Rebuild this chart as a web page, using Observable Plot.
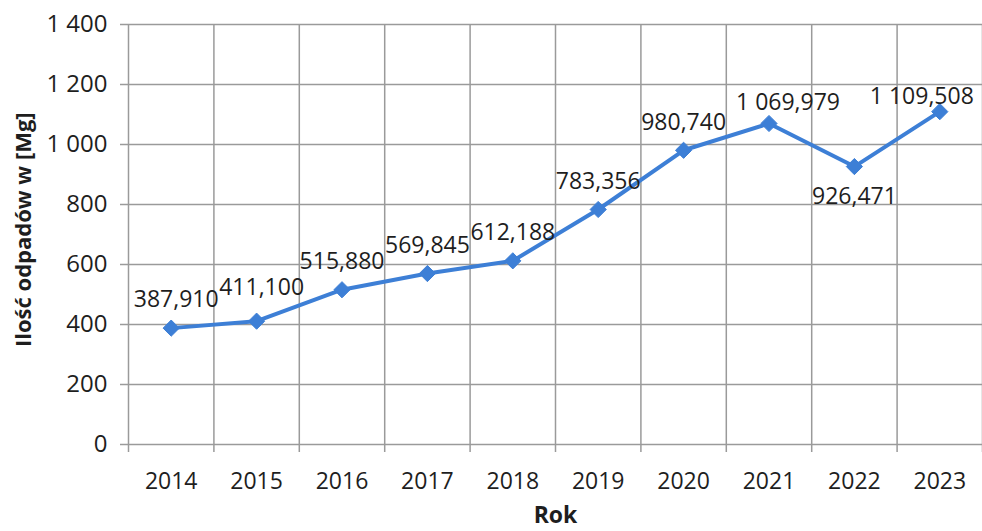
<!DOCTYPE html>
<html><head><meta charset="utf-8">
<script src="https://cdn.jsdelivr.net/npm/d3@7"></script>
<script src="https://cdn.jsdelivr.net/npm/@observablehq/plot@0.6"></script>
<style>
body{margin:0;background:#fff;}
#chart svg{font-family:"Open Sans",sans-serif;}
</style></head>
<body><div id="chart"></div>
<script>
const years = [2014,2015,2016,2017,2018,2019,2020,2021,2022,2023];
const values = [387.910,411.100,515.880,569.845,612.188,783.356,980.740,1069.979,926.471,1109.508];
const yTicks = [0,200,400,600,800,1000,1200,1400];
const xTitle = "Rok";
const yTitle = "Ilość odpadów w [Mg]";

const data = years.map((y,i)=>({year:y, value:values[i]}));
const pl = d3.formatLocale({decimal:",", thousands:"\u00a0", grouping:[3]});
const fmtVal = pl.format(",.3f");
const fmtTick = pl.format(",d");
const x0 = years[0]-0.5, x1 = years[years.length-1]+0.5;
const bounds = d3.range(x0, x1+0.5, 1);

const ink = "#1e1e1e";
const blue = "#3d7fd6";
const grid = "#9a9a9a";
const lbl = {x:"year", y:"value", text:d=>fmtVal(d.value), fill:ink, fontSize:23};

const chart = Plot.plot({
  width: 982, height: 531,
  marginLeft: 128, marginRight: 0, marginTop: 24, marginBottom: 87,
  style: {fontFamily: "'Open Sans', sans-serif", color: ink, background:"#fff"},
  x: {domain: [x0, x1]},
  y: {domain: [0,1400]},
  marks: [
    Plot.ruleY(yTicks, {stroke:grid, strokeWidth:1.5, insetLeft:-8}),
    Plot.ruleX(bounds, {stroke:grid, strokeWidth:1.5, insetBottom:-8}),
    Plot.axisX({ticks: years, tickFormat: d=>String(d), tickSize: 0, tickPadding: 28, fontSize: 23, label: null, fill: ink}),
    Plot.axisY({ticks: yTicks, tickFormat: fmtTick, tickSize: 0, tickPadding: 21, fontSize: 24, label: null, fill: ink}),
    Plot.text([yTitle], {x: ()=>x0, y: ()=>716, rotate:-90, dx:-105, fontSize:22, fontWeight:"bold", fill:ink}),
    Plot.text([xTitle], {frameAnchor:"bottom", dy:78, fontSize:23, fontWeight:"bold", fill:ink}),
    Plot.line(data, {x:"year", y:"value", stroke:blue, strokeWidth:4}),
    Plot.dot(data, {x:"year", y:"value", symbol:"diamond2", r:7.3, fill:blue, stroke:blue, strokeWidth:1}),
    Plot.text(data.filter(d=>d.year===2014), {...lbl, dx:5, dy:-29}),
    Plot.text(data.filter(d=>d.year===2015), {...lbl, dx:5, dy:-34}),
    Plot.text(data.filter(d=>d.year>2015 && d.year<=2020), {...lbl, dy:-28}),
    Plot.text(data.filter(d=>d.year===2021), {...lbl, dx:19, dy:-21}),
    Plot.text(data.filter(d=>d.year===2022), {...lbl, dy:30}),
    Plot.text(data.filter(d=>d.year===2023), {...lbl, dx:-18, dy:-15})
  ]
});
document.getElementById("chart").appendChild(chart);
</script></body></html>
